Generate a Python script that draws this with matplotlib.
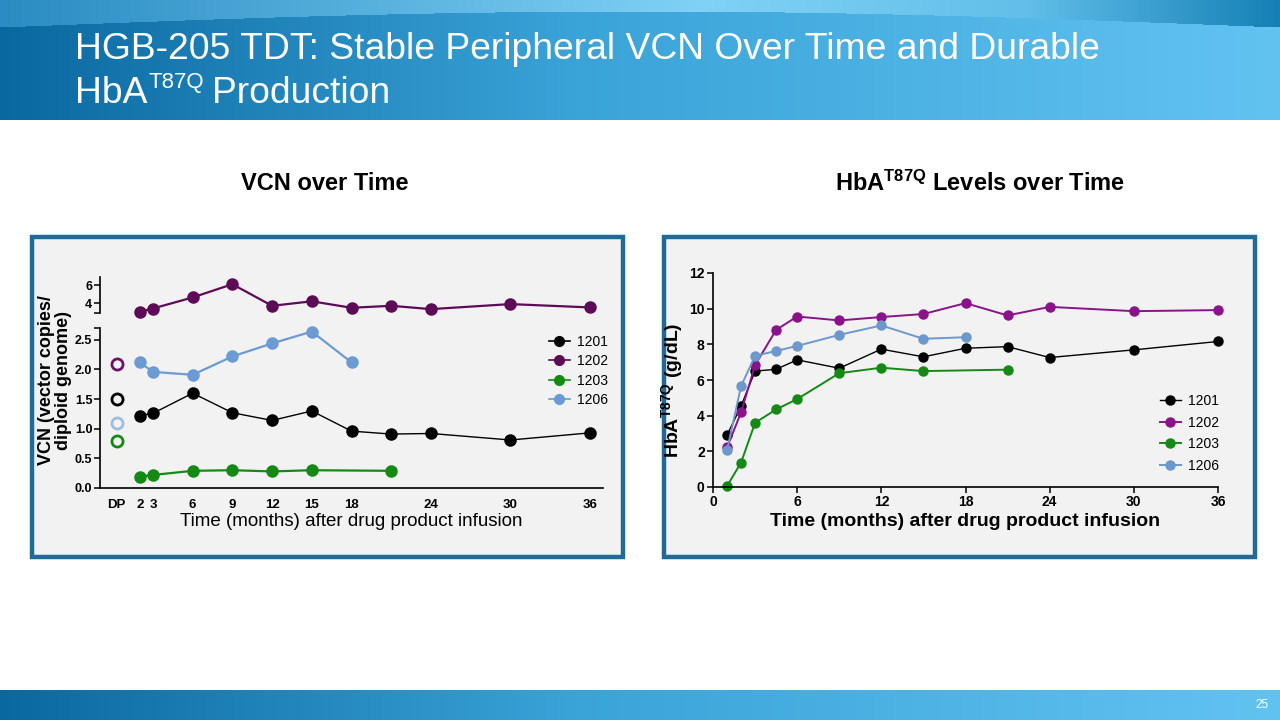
import numpy as np
import matplotlib
matplotlib.use("Agg")
import matplotlib.pyplot as plt
from matplotlib.patches import Rectangle
from matplotlib.lines import Line2D

plt.rcParams['font.family'] = ['Liberation Sans', 'DejaVu Sans']
plt.rcParams['mathtext.default'] = 'regular'

# ---- data ----
patients = ['1201', '1202', '1203', '1206']

# VCN over time
vcn_months = [2, 3, 6, 9, 12, 15, 18, 21, 24, 30, 36]
vcn_1201 = [1.22, 1.26, 1.60, 1.27, 1.14, 1.30, 0.96, 0.91, 0.92, 0.81, 0.93]
vcn_1202 = [3.03, 3.40, 4.63, 6.10, 3.70, 4.20, 3.48, 3.70, 3.33, 3.89, 3.52]
vcn_1203_months = [2, 3, 6, 9, 12, 15, 21]
vcn_1203 = [0.19, 0.22, 0.29, 0.30, 0.28, 0.30, 0.29]
vcn_1206_months = [2, 3, 6, 9, 12, 15, 18]
vcn_1206 = [2.12, 1.96, 1.91, 2.22, 2.44, 2.64, 2.12]
dp_vcn = [1.50, 2.09, 0.80, 1.09]   # drug product, same order as patients

vcn_xticks = [0.25, 2, 3, 6, 9, 12, 15, 18, 24, 30, 36]
vcn_xlabels = ['DP', '2', '3', '6', '9', '12', '15', '18', '24', '30', '36']

# HbA T87Q over time
hba_months = [1, 2, 3, 4.5, 6, 9, 12, 15, 18, 21, 24, 30, 36]
hba_1201 = [2.91, 4.54, 6.50, 6.60, 7.13, 6.66, 7.73, 7.30, 7.78, 7.87, 7.26, 7.69, 8.16]
hba_1202 = [2.22, 4.18, 6.84, 8.81, 9.56, 9.34, 9.53, 9.70, 10.31, 9.62, 10.10, 9.86, 9.92]
hba_1203_months = [1, 2, 3, 4.5, 6, 9, 12, 15, 21]
hba_1203 = [0.05, 1.37, 3.60, 4.35, 4.93, 6.38, 6.69, 6.50, 6.58]
hba_1206_months = [1, 2, 3, 4.5, 6, 9, 12, 15, 18]
hba_1206 = [2.06, 5.66, 7.35, 7.63, 7.91, 8.53, 9.06, 8.31, 8.40]

# colours
vcn_colors = ['#000000', '#5e0b57', '#148a14', '#6b9bd2']
dp_colors = ['#000000', '#6e1466', '#148a14', '#9dbce2']
hba_colors = ['#000000', '#8a128a', '#148a14', '#6c98cc']
box_col = '#1f6a97'
panel_bg = '#f2f2f2'

W, H = 1280, 720
fig = plt.figure(figsize=(12.8, 7.2), dpi=100)
renderer = fig.canvas.get_renderer()

bg = fig.add_axes([0, 0, 1, 1])
bg.axis('off')


def lerp_cols(stops, t):
    pos = [s[0] for s in stops]
    cols = np.array([matplotlib.colors.to_rgb(s[1]) for s in stops])
    return np.stack([np.interp(t, pos, cols[:, k]) for k in range(3)], axis=-1)


# header band with gradient and a lighter swoosh at top
hx = np.linspace(0, 1, W)
base = lerp_cols([(0, '#0a68a0'), (0.45, '#3aa3d8'), (1, '#62c3f1')], hx)
swoosh = lerp_cols([(0, '#2a8cc2'), (0.55, '#80d2f6'), (0.8, '#62bfe9'), (1, '#1580b6')], hx)
hdr = np.repeat(base[None, :, :], 120, axis=0)
ys = np.arange(120)[:, None]
curve = 27 - 16 * np.sin(np.pi * hx)[None, :]
mask = ys < curve
hdr[mask] = np.broadcast_to(swoosh[None, :, :], hdr.shape)[mask]
bg.imshow(hdr, extent=[0, W, 120, 0], aspect='auto', zorder=0)

# footer band
ftr = np.repeat(base[None, :, :], 30, axis=0)
bg.imshow(ftr, extent=[0, W, 720, 690], aspect='auto', zorder=0)
bg.set_xlim(0, W)
bg.set_ylim(H, 0)

bg.text(75, 59, 'HGB-205 TDT: Stable Peripheral VCN Over Time and Durable',
        color='white', fontsize=26.8, va='baseline', ha='left')
t_hb = bg.text(75, 103, 'HbA', color='white', fontsize=26.8, va='baseline', ha='left')
hb_w = t_hb.get_window_extent(renderer).width
t_sup = bg.text(75 + hb_w + 1, 88, 'T87Q', color='white', fontsize=16,
                va='baseline', ha='left')
sup_w = t_sup.get_window_extent(renderer).width
bg.text(75 + hb_w + sup_w + 9, 103, 'Production', color='white', fontsize=26.8,
        va='baseline', ha='left')
bg.text(1262, 705, '25', color='white', fontsize=8.5, ha='center', va='center')

# panel boxes
for x0 in (32, 664):
    bg.add_patch(Rectangle((x0, 237), 591, 320, facecolor=panel_bg,
                           edgecolor=box_col, linewidth=3.2, zorder=1))

bg.text(325, 183, 'VCN over Time', fontsize=17, fontweight='bold',
        ha='center', va='center')
bg.text(980, 183, 'HbA$^{T87Q}$ Levels over Time', fontsize=17,
        fontweight='bold', ha='center', va='center')


def px_axes(x0, y0, x1, y1):
    a = fig.add_axes([x0 / W, 1 - y1 / H, (x1 - x0) / W, (y1 - y0) / H])
    a.patch.set_alpha(0)
    for s in ('top', 'right'):
        a.spines[s].set_visible(False)
    for s in ('left', 'bottom'):
        a.spines[s].set_linewidth(1.2)
    return a


narrow = ['Liberation Sans Narrow', 'Liberation Sans']

# ---- left chart: VCN with broken y axis ----
ax_top = px_axes(100, 277, 603, 313)
ax_bot = px_axes(100, 328, 603, 488)
for a in (ax_top, ax_bot):
    a.set_xlim(-1, 37)
ax_top.set_ylim(2.9, 6.9)
ax_bot.set_ylim(0, 2.7)
ax_top.spines['bottom'].set_visible(False)
ax_top.set_xticks([])
ax_top.set_yticks([4, 6])
ax_top.set_yticks([2.9], minor=True)
ax_bot.set_yticks([0, 0.5, 1.0, 1.5, 2.0, 2.5])
ax_bot.set_yticklabels(['0.0', '0.5', '1.0', '1.5', '2.0', '2.5'])
ax_bot.set_yticks([2.7], minor=True)
for a in (ax_top, ax_bot):
    a.tick_params(axis='y', which='both', length=4, width=1.1, pad=1.5)
    for lab in a.get_yticklabels():
        lab.set_family(narrow)
        lab.set_fontweight('bold')
        lab.set_fontsize(9)
ax_bot.set_xticks(vcn_xticks)
ax_bot.set_xticklabels(vcn_xlabels, family=narrow, fontweight='bold', fontsize=9.5)
ax_bot.tick_params(axis='x', length=0, pad=8)

mk = dict(marker='o', markersize=8, clip_on=False)
ax_top.plot(vcn_months, vcn_1202, color=vcn_colors[1], lw=1.6, **mk)
ax_bot.plot(vcn_months, vcn_1201, color=vcn_colors[0], lw=1.0, **mk)
ax_bot.plot(vcn_1203_months, vcn_1203, color=vcn_colors[2], lw=1.6, **mk)
ax_bot.plot(vcn_1206_months, vcn_1206, color=vcn_colors[3], lw=1.6, **mk)
for val, c in zip(dp_vcn, dp_colors):
    ax_bot.plot([0.25], [val], marker='o', markersize=8, markerfacecolor='none',
                markeredgecolor=c, markeredgewidth=2, linestyle='none', clip_on=False)

ax_bot.set_xlabel('Time (months) after drug product infusion', fontsize=13.5,
                  labelpad=1)
bg.text(55, 380, 'VCN (vector copies/\ndiploid genome)', rotation=90,
        fontsize=13, fontweight='bold', ha='center', va='center',
        linespacing=0.95)

leg_handles = [Line2D([], [], color=c, marker='o', markersize=7, lw=1.2)
               for c in vcn_colors]
ax_bot.legend(leg_handles, patients, loc='upper left', frameon=False,
              bbox_to_anchor=(549 / W, 1 - 335 / H), bbox_transform=fig.transFigure,
              handlelength=1.5, handletextpad=0.5, labelspacing=0.38,
              prop={'family': narrow, 'size': 10}, borderpad=0, borderaxespad=0)

# ---- right chart: HbA T87Q ----
ax_r = px_axes(713, 273, 1218, 487)
ax_r.set_xlim(0, 36)
ax_r.set_ylim(0, 12)
ax_r.set_xticks([0, 6, 12, 18, 24, 30, 36])
ax_r.set_yticks([0, 2, 4, 6, 8, 10, 12])
ax_r.tick_params(length=4, width=1.1, pad=2, labelsize=10)
for lab in ax_r.get_xticklabels() + ax_r.get_yticklabels():
    lab.set_fontweight('bold')

mk2 = dict(marker='o', markersize=6.5, clip_on=False)
ax_r.plot(hba_months, hba_1201, color=hba_colors[0], lw=1.0, label=patients[0], **mk2)
ax_r.plot(hba_months, hba_1202, color=hba_colors[1], lw=1.4, label=patients[1], **mk2)
ax_r.plot(hba_1203_months, hba_1203, color=hba_colors[2], lw=1.4, label=patients[2], **mk2)
ax_r.plot(hba_1206_months, hba_1206, color=hba_colors[3], lw=1.4, label=patients[3], **mk2)

ax_r.set_xlabel('Time (months) after drug product infusion', fontsize=14,
                fontweight='bold', labelpad=3)
ax_r.set_ylabel('HbA$^{T87Q}$ (g/dL)', fontsize=14, fontweight='bold')
ax_r.yaxis.set_label_coords(-0.055, 0.45)

ax_r.legend(loc='upper left', frameon=False,
            bbox_to_anchor=(1160 / W, 1 - 394 / H), bbox_transform=fig.transFigure,
            handlelength=1.5, handletextpad=0.5, labelspacing=0.55,
            prop={'family': narrow, 'size': 10}, borderpad=0, borderaxespad=0)

fig.savefig('out.png', dpi=100)
